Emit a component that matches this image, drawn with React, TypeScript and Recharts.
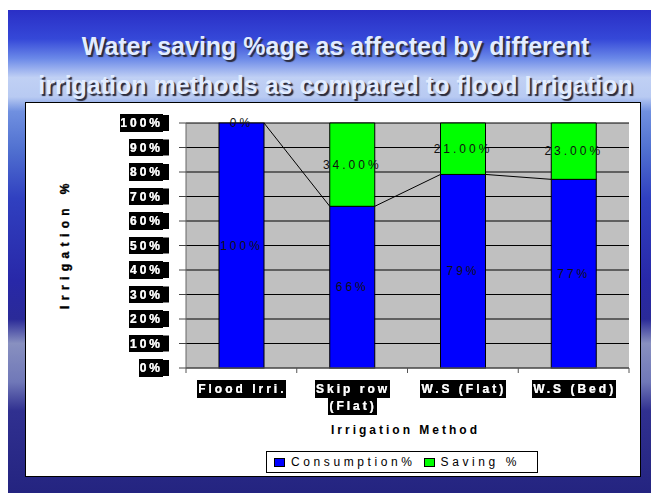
import React from 'react';
import {
  ComposedChart, Bar, XAxis, YAxis, CartesianGrid, Legend, LabelList,
} from 'recharts';

const CATEGORIES = ['Flood Irri.', 'Skip row (Flat)', 'W.S (Flat)', 'W.S (Bed)'];
const CONSUMPTION = [100, 66, 79, 77];
const SAVING = [0, 34, 21, 23];
const Y_TICKS = [0, 10, 20, 30, 40, 50, 60, 70, 80, 90, 100];
const SERIES_NAMES = ['Consumption%', 'Saving %'];

const data = CATEGORIES.map((name, i) => ({
  name,
  consumption: CONSUMPTION[i],
  saving: SAVING[i],
}));

const FONT = '"Liberation Sans", Arial, sans-serif';
const CHART_W = 614;
const CHART_H = 373;
const MARGIN = { top: 20, right: 11, left: 20, bottom: 3 };
const Y_AXIS_W = 140;
// width of one category band, used for the series lines and boundary ticks
const BAND = (CHART_W - MARGIN.left - MARGIN.right - Y_AXIS_W) / CATEGORIES.length;

const wrap = (s: string) => {
  if (s.length <= 12) return [s];
  const cut = s.lastIndexOf(' ');
  return [s.slice(0, cut), s.slice(cut + 1)];
};

const YTick = ({ x, y, payload }: any) => (
  <g>
    <rect x={x - 7} y={y - 8} width={7} height={16} fill="#000" />
    <text
      x={x - 6} y={y + 4} textAnchor="end" filter="url(#blackBg)"
      fill="#fff" fontWeight="bold" fontSize={12} letterSpacing={3} fontFamily={FONT}
    >{`${payload.value}%`}</text>
  </g>
);

const XTick = ({ x, y, payload, index }: any) => {
  const axisY = y - 13;
  const lines = wrap(payload.value);
  return (
    <g>
      <line x1={x - BAND / 2} x2={x - BAND / 2} y1={axisY} y2={axisY + 5} stroke="#555" />
      {index === CATEGORIES.length - 1 && (
        <line x1={x + BAND / 2} x2={x + BAND / 2} y1={axisY} y2={axisY + 5} stroke="#555" />
      )}
      {lines.map((l, i) => (
        <text
          key={i} x={x + 1} y={y + 12 + i * 17} textAnchor="middle" filter="url(#blackBgTight)"
          fill="#fff" fontWeight="bold" fontSize={12} letterSpacing={3} fontFamily={FONT}
        >{l}</text>
      ))}
    </g>
  );
};

// consumption bar plus the series line to the next bar's top
const ConsumptionShape = (props: any) => {
  const { x, y, width, height, index, fill } = props;
  const v = CONSUMPTION[index];
  const next = CONSUMPTION[index + 1];
  const ratio = v ? height / v : 0;
  return (
    <g>
      <rect x={x} y={y} width={width} height={height} fill={fill} stroke="#000" strokeWidth={1} />
      {next !== undefined && (
        <line
          x1={x + width} y1={y}
          x2={x + BAND} y2={y + height - next * ratio}
          stroke="#000" strokeWidth={1}
        />
      )}
    </g>
  );
};

const labelText = (x: number, y: number, s: string) => (
  <text
    x={x} y={y + 4} textAnchor="middle"
    fill="#111" fontSize={12} letterSpacing={3} fontFamily={FONT}
  >{s}</text>
);

const ConsumptionLabel = (props: any) => {
  const { x, y, width, height, value } = props;
  return labelText(x + width / 2, y + height / 2, `${value}%`);
};

// saving label sits in the middle of the stacked saving segment (also for 0%)
const SavingLabel = (props: any) => {
  const { x, y, width, height, index } = props;
  const ratio = height / CONSUMPTION[index];
  const s = SAVING[index];
  return labelText(x + width / 2, y - (s * ratio) / 2, s === 0 ? '0%' : `${s.toFixed(2)}%`);
};

const YTitle = (props: any) => {
  const { viewBox } = props;
  const cx = viewBox.x + 19;
  const cy = viewBox.y + viewBox.height / 2 - 2;
  return (
    <text
      x={cx} y={cy} transform={`rotate(-90 ${cx} ${cy})`} textAnchor="middle" dominantBaseline="central"
      fontWeight="bold" fontSize={12} letterSpacing={5.4} fontFamily={FONT} fill="#000"
      stroke="#000" strokeWidth={0.4}
    >Irrigation %</text>
  );
};

const XTitle = (props: any) => {
  const { viewBox } = props;
  return (
    <text
      x={viewBox.x + viewBox.width / 2 - 2} y={viewBox.y + 66} textAnchor="middle"
      fontWeight="bold" fontSize={12} letterSpacing={3} fontFamily={FONT} fill="#000"
    >Irrigation Method</text>
  );
};

const LegendBox = ({ payload }: any) => (
  <div style={{
    boxSizing: 'border-box', height: 22, width: 272, border: '1px solid #000', background: '#fff',
    display: 'flex', alignItems: 'center', paddingLeft: 7, fontFamily: FONT, fontSize: 12,
    letterSpacing: 3.6, color: '#000', whiteSpace: 'nowrap',
  }}>
    {(payload || []).filter((p: any) => SERIES_NAMES.includes(p.value)).map((p: any) => (
      <span key={p.value} style={{ display: 'flex', alignItems: 'center', marginRight: 8 }}>
        <span style={{
          display: 'inline-block', width: 9, height: 7, background: p.color,
          border: '1px solid #000', marginRight: 6,
        }} />
        {p.value}
      </span>
    ))}
  </div>
);

const SLIDE_BG = 'linear-gradient(to bottom, #2a2fc6 0%, #3548d8 6%, #6a88e8 10%, #c0d0f4 14%, ' +
  '#b8caf2 18%, #7090e0 21%, #5070d0 29%, #3040c0 39%, #2828a8 56%, #2a2a98 64%, #8890c0 69%, ' +
  '#7078b8 77%, #303090 83%, #242480 100%)';

export default function App() {
  return (
    <div style={{
      position: 'absolute', left: 8, top: 10, width: 643, height: 483, background: SLIDE_BG,
      fontFamily: FONT,
    }}>
      <svg width={0} height={0} style={{ position: 'absolute' }}>
        <defs>
          <filter id="blackBg" x="0" y="-0.08" width="1" height="1.16">
            <feFlood floodColor="#000" />
            <feComposite in="SourceGraphic" operator="over" />
          </filter>
          <filter id="blackBgTight" x="-0.01" y="-0.08" width="1.0" height="1.16">
            <feFlood floodColor="#000" />
            <feComposite in="SourceGraphic" operator="over" />
          </filter>
        </defs>
      </svg>
      <div style={{
        position: 'absolute', top: 17, left: 12, width: 631, textAlign: 'center',
        fontWeight: 'bold', fontSize: 25, lineHeight: '39px', color: '#e2ecff',
        textShadow: '2px 2px 1px #2a2a3a',
      }}>
        Water saving %age as affected by different<br />
        irrigation methods as compared to flood Irrigation
      </div>
      <div style={{
        position: 'absolute', left: 17, top: 92, width: 614, height: 373,
        border: '1px solid #000', background: '#fff',
      }}>
        <ComposedChart width={CHART_W} height={CHART_H} data={data} margin={MARGIN}>
          <CartesianGrid vertical={false} stroke="#000" fill="#C0C0C0" />
          <XAxis
            dataKey="name" height={83} tick={<XTick />} tickLine={false} tickSize={5} tickMargin={8}
            axisLine={{ stroke: '#666' }} interval={0} label={XTitle}
          />
          {/* hidden twin axis so the label-only series lines up with the stacked bars */}
          <XAxis xAxisId="labels" dataKey="name" hide />
          <YAxis
            width={Y_AXIS_W} domain={[0, 100]} ticks={Y_TICKS} interval={0} tick={<YTick />}
            tickSize={7} tickMargin={10} tickLine={{ stroke: '#444' }} axisLine={{ stroke: '#666' }}
            label={YTitle}
          />
          <Legend
            verticalAlign="bottom" content={<LegendBox />}
            wrapperStyle={{ left: 240, width: 272 }}
          />
          <Bar
            dataKey="consumption" name="Consumption%" stackId="a" fill="#0000FF" barSize={45}
            shape={<ConsumptionShape />} isAnimationActive={false}
          >
            <LabelList dataKey="consumption" position="center" content={ConsumptionLabel} />
          </Bar>
          <Bar
            dataKey="saving" name="Saving %" stackId="a" fill="#00FF00" barSize={45}
            stroke="#000" strokeWidth={1} isAnimationActive={false}
          />
          <Bar
            xAxisId="labels" dataKey="consumption" name="labels" fill="none" barSize={45}
            legendType="none" shape={() => <g />} isAnimationActive={false}
          >
            <LabelList dataKey="saving" content={SavingLabel} />
          </Bar>
        </ComposedChart>
      </div>
    </div>
  );
}
